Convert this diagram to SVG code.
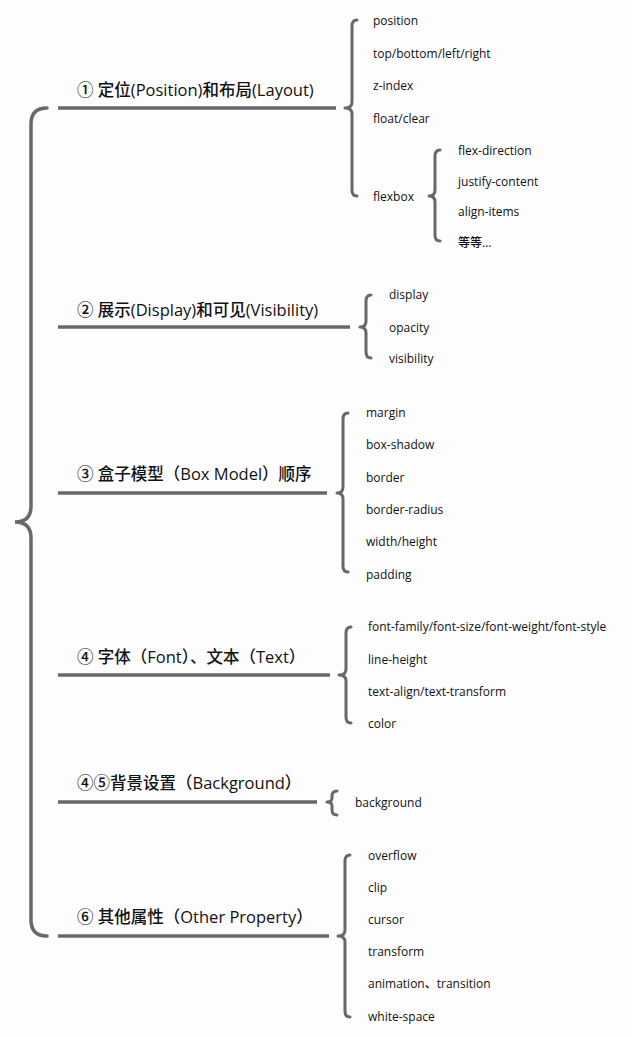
<svg xmlns="http://www.w3.org/2000/svg" width="632" height="1037" viewBox="0 0 632 1037">
<style>
.bg{fill:#fdfdfd}
.ln{stroke:#686868;stroke-width:3.5;fill:none;stroke-linecap:butt}
.br{stroke:#686868;stroke-width:3;fill:none;stroke-linecap:round;stroke-linejoin:round}
.mb{stroke:#686868;stroke-width:3.5;fill:none;stroke-linecap:round}
.h{font-family:"Open Sans","Noto Sans CJK SC",sans-serif;font-size:16.5px;font-weight:500;fill:#111}
.t{font-family:"Open Sans","Noto Sans CJK SC",sans-serif;font-size:12px;font-weight:500;fill:#111}
</style>
<rect class="bg" x="0" y="0" width="632" height="1037"/>
<g id="connectors">
<path class="mb" d="M47,108 Q31,108 31,124 L31,506 Q31,522 15,522 Q31,522 31,538 L31,920 Q31,936 47,936"/>
<line class="ln" x1="58" y1="108" x2="336" y2="108"/>
<line class="ln" x1="58" y1="327" x2="350" y2="327"/>
<line class="ln" x1="58" y1="493" x2="327" y2="493"/>
<line class="ln" x1="58" y1="675" x2="330" y2="675"/>
<line class="ln" x1="58" y1="802" x2="317" y2="802"/>
<line class="ln" x1="58" y1="936" x2="329" y2="936"/>
<path class="br" d="M357,20 Q352,20 352,26 L352,102 Q352,108 345,108 Q352,108 352,114 L352,190 Q352,196 357,196"/>
<path class="br" d="M440,150 Q435,150 435,156 L435,190 Q435,196 429,196 Q435,196 435,202 L435,235 Q435,241 440,241"/>
<path class="br" d="M371,295 Q366,295 366,301 L366,321 Q366,327 360,327 Q366,327 366,333 L366,352 Q366,358 371,358"/>
<path class="br" d="M348,413 Q343,413 343,419 L343,487 Q343,493 337,493 Q343,493 343,499 L343,566 Q343,572 348,572"/>
<path class="br" d="M351,627 Q346,627 346,633 L346,669 Q346,675 339,675 Q346,675 346,681 L346,717 Q346,723 351,723"/>
<path class="br" d="M337,791 Q332,791 332,796 L332,798 Q332,802 327,802 Q332,802 332,806 L332,810 Q332,815 337,815"/>
<path class="br" d="M350,855 Q345,855 345,861 L345,930 Q345,936 338,936 Q345,936 345,942 L345,1011 Q345,1017 350,1017"/>
</g>
<g id="n1"><text class="h" x="77" y="96">① 定位(Position)和布局(Layout)</text></g>
<g id="n1-items">
<text class="t" x="373" y="25">position</text>
<text class="t" x="373" y="58">top/bottom/left/right</text>
<text class="t" x="373" y="90">z-index</text>
<text class="t" x="373" y="123">float/clear</text>
<text class="t" x="373" y="201">flexbox</text>
</g>
<g id="n1-flex">
<text class="t" x="458" y="155">flex-direction</text>
<text class="t" x="458" y="186">justify-content</text>
<text class="t" x="458" y="216">align-items</text>
<text class="t" x="458" y="247">等等...</text>
</g>
<g id="n2"><text class="h" x="77" y="316">② 展示(Display)和可见(Visibility)</text></g>
<g id="n2-items">
<text class="t" x="389" y="299">display</text>
<text class="t" x="389" y="332">opacity</text>
<text class="t" x="389" y="363">visibility</text>
</g>
<g id="n3"><text class="h" x="77" y="480">③ 盒子模型（Box Model）顺序</text></g>
<g id="n3-items">
<text class="t" x="366" y="417">margin</text>
<text class="t" x="366" y="449">box-shadow</text>
<text class="t" x="366" y="482">border</text>
<text class="t" x="366" y="514">border-radius</text>
<text class="t" x="366" y="546">width/height</text>
<text class="t" x="366" y="579">padding</text>
</g>
<g id="n4"><text class="h" x="77" y="663">④ 字体（Font）、文本（Text）</text></g>
<g id="n4-items">
<text class="t" x="368" y="631">font-family/font-size/font-weight/font-style</text>
<text class="t" x="368" y="664">line-height</text>
<text class="t" x="368" y="696">text-align/text-transform</text>
<text class="t" x="368" y="728">color</text>
</g>
<g id="n5"><text class="h" x="77" y="789">④⑤背景设置（Background）</text></g>
<g id="n5-items">
<text class="t" x="355" y="807">background</text>
</g>
<g id="n6"><text class="h" x="77" y="923">⑥ 其他属性（Other Property）</text></g>
<g id="n6-items">
<text class="t" x="368" y="860">overflow</text>
<text class="t" x="368" y="892">clip</text>
<text class="t" x="368" y="924">cursor</text>
<text class="t" x="368" y="956">transform</text>
<text class="t" x="368" y="988">animation、transition</text>
<text class="t" x="368" y="1021">white-space</text>
</g>
</svg>
